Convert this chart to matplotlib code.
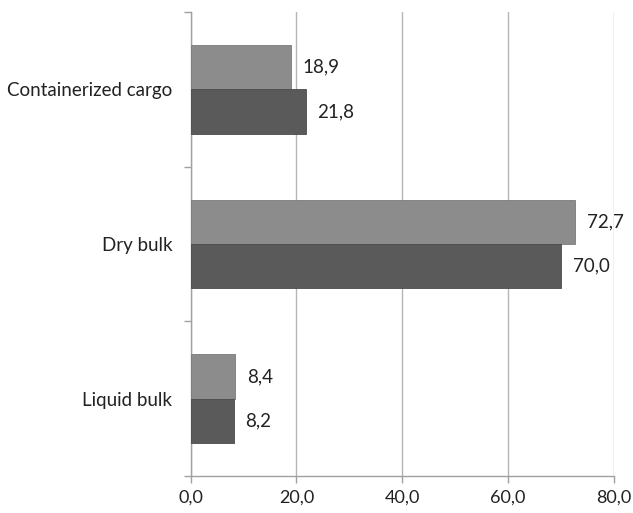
import matplotlib
matplotlib.use("Agg")
import matplotlib.pyplot as plt
import numpy as np

categories = ["Containerized cargo", "Dry bulk", "Liquid bulk"]
series_light = [18.9, 72.7, 8.4]
series_dark = [21.8, 70.0, 8.2]
xticks = [0, 20, 40, 60, 80]

plt.rcParams['font.family'] = ['Lato', 'DejaVu Sans']

fig = plt.figure(figsize=(6.33, 5.13), dpi=100)
ax = fig.add_axes([0.301, 0.072, 0.669, 0.905])

n = len(categories)
pos = np.arange(n)[::-1]  # top to bottom
h = 0.287
c_light = "#8c8c8c"
c_dark = "#5a5a5a"
fs = 13.5
ax.barh(pos + h / 2, series_light, height=h, color=c_light, edgecolor='#7a7a7a', linewidth=0.6, zorder=3)
ax.barh(pos - h / 2, series_dark, height=h, color=c_dark, edgecolor='#4a4a4a', linewidth=0.6, zorder=3)

for y, v in zip(pos + h / 2, series_light):
    ax.text(v + 2.2, y, f"{v:.1f}".replace('.', ','), va='center', ha='left', fontsize=fs, color='#222222')
for y, v in zip(pos - h / 2, series_dark):
    ax.text(v + 2.2, y, f"{v:.1f}".replace('.', ','), va='center', ha='left', fontsize=fs, color='#222222')

ax.set_xlim(0, 80)
ax.set_ylim(-0.5, n - 0.5)
ax.set_xticks(xticks)
ax.set_xticklabels([f"{t:.1f}".replace('.', ',') for t in xticks], fontsize=13, color='#222222')
ax.set_yticks(pos)
ax.set_yticklabels(categories, fontsize=fs, color='#222222')
ax.set_yticks(np.arange(-0.5, n, 1.0), minor=True)
ax.tick_params(axis='y', which='major', length=0, pad=13)
ax.tick_params(axis='y', which='minor', length=5, color='#a0a0a0', width=1)
ax.tick_params(axis='x', which='major', length=5, color='#a0a0a0', width=1, pad=5)

ax.xaxis.grid(True, color='#b5b5b5', linewidth=1, zorder=0)
ax.set_axisbelow(True)
for s in ['top', 'right']:
    ax.spines[s].set_visible(False)
for s in ['left', 'bottom']:
    ax.spines[s].set_color('#a0a0a0')
    ax.spines[s].set_linewidth(1)

fig.savefig("out.png", dpi=100, facecolor='white')
